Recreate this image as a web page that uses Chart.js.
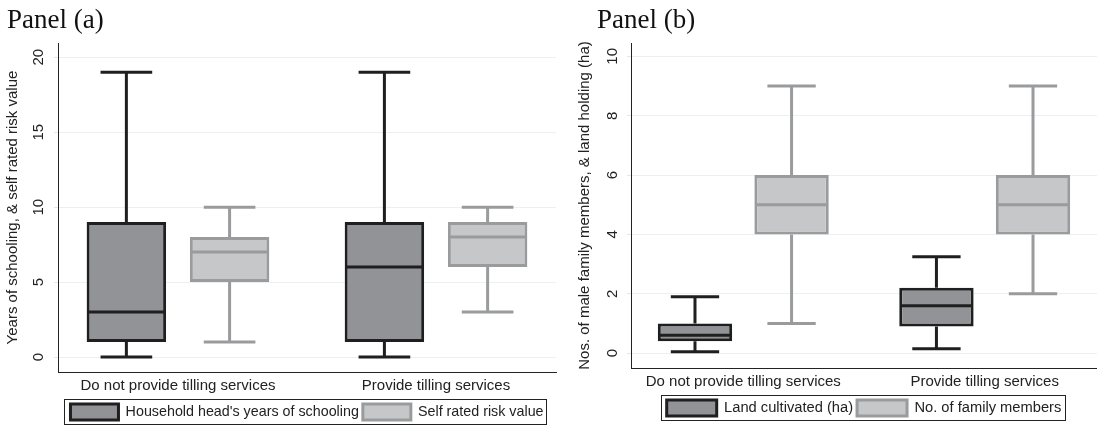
<!DOCTYPE html>
<html>
<head>
<meta charset="utf-8">
<script src="https://cdn.jsdelivr.net/npm/chart.js@4.4.0/dist/chart.umd.min.js"></script>
<style>
  html, body { margin: 0; padding: 0; background: #fff; }
  body { width: 1097px; height: 427px; position: relative; overflow: hidden; }
  .panel { position: absolute; top: 0; height: 427px; }
  #wrapA { left: 0; width: 560px; }
  #wrapB { left: 560px; width: 537px; }
  .ptitle { position: absolute; top: 4px; font: 27px "Liberation Serif", "Times New Roman", serif; color: #111; white-space: nowrap; }
</style>
</head>
<body>
<div class="panel" id="wrapA"><canvas id="chartA" width="560" height="427"></canvas></div>
<div class="panel" id="wrapB"><canvas id="chartB" width="537" height="427"></canvas></div>
<div class="ptitle" style="left:7px">Panel (a)</div>
<div class="ptitle" style="left:597px">Panel (b)</div>
<script>
const categories = ['Do not provide tilling services', 'Provide tilling services'];

// Panel (a): household head's schooling, self rated risk
const schoolMin = [0, 0];
const schoolQ1 = [1, 1];
const schoolMed = [3, 6];
const schoolQ3 = [9, 9];
const schoolMax = [19, 19];

const riskMin = [1, 3];
const riskQ1 = [5, 6];
const riskMed = [7, 8];
const riskQ3 = [8, 9];
const riskMax = [10, 10];

// Panel (b): land cultivated, family members
const landMin = [0.05, 0.15];
const landQ1 = [0.4, 0.9];
const landMed = [0.6, 1.6];
const landQ3 = [1.0, 2.2];
const landMax = [1.9, 3.25];

const famMin = [1, 2];
const famQ1 = [4, 4];
const famMed = [5, 5];
const famQ3 = [6, 6];
const famMax = [9, 9];

const ticksA = [0, 5, 10, 15, 20];
const ticksB = [0, 2, 4, 6, 8, 10];

const DARK_FILL = '#929396', DARK_LINE = '#1f1f1f';
const LIGHT_FILL = '#c6c7c9', LIGHT_LINE = '#9a9b9d';

Chart.defaults.font.family = '"Liberation Sans", Arial, sans-serif';
Chart.defaults.color = '#222';

// whiskers + median lines on top of the floating bars
const boxWhiskers = {
  id: 'boxWhiskers',
  beforeDatasetsDraw(chart) {
    const ctx = chart.ctx, y = chart.scales.y;
    chart.data.datasets.forEach((ds, di) => {
      chart.getDatasetMeta(di).data.forEach((bar, i) => {
        const cap = bar.width * 0.65;
        ctx.save();
        ctx.strokeStyle = ds.borderColor;
        ctx.lineWidth = 3;
        ctx.beginPath();
        ctx.moveTo(bar.x, y.getPixelForValue(ds.data[i][1]));
        ctx.lineTo(bar.x, y.getPixelForValue(ds.wMax[i]));
        ctx.moveTo(bar.x - cap / 2, y.getPixelForValue(ds.wMax[i]));
        ctx.lineTo(bar.x + cap / 2, y.getPixelForValue(ds.wMax[i]));
        ctx.moveTo(bar.x, y.getPixelForValue(ds.data[i][0]));
        ctx.lineTo(bar.x, y.getPixelForValue(ds.wMin[i]));
        ctx.moveTo(bar.x - cap / 2, y.getPixelForValue(ds.wMin[i]));
        ctx.lineTo(bar.x + cap / 2, y.getPixelForValue(ds.wMin[i]));
        ctx.stroke();
        ctx.restore();
      });
    });
  },
  afterDatasetsDraw(chart) {
    const ctx = chart.ctx, y = chart.scales.y;
    chart.data.datasets.forEach((ds, di) => {
      chart.getDatasetMeta(di).data.forEach((bar, i) => {
        const py = y.getPixelForValue(ds.wMed[i]);
        ctx.save();
        ctx.strokeStyle = ds.borderColor;
        ctx.lineWidth = 3;
        ctx.beginPath();
        ctx.moveTo(bar.x - bar.width / 2 + 1, py);
        ctx.lineTo(bar.x + bar.width / 2 - 1, py);
        ctx.stroke();
        ctx.restore();
      });
    });
  }
};

// frame around the legend, like the Stata legend box
const legendFrame = {
  id: 'legendFrame',
  afterDraw(chart) {
    const hb = chart.legend.legendHitBoxes;
    if (!hb || !hb.length) return;
    const l = Math.min(...hb.map(b => b.left)) - 6;
    const r = Math.max(...hb.map(b => b.left + b.width)) + 3;
    const t = Math.min(...hb.map(b => b.top)) - 5;
    const bt = Math.max(...hb.map(b => b.top + b.height)) + 4;
    const ctx = chart.ctx;
    ctx.save();
    ctx.strokeStyle = '#222';
    ctx.lineWidth = 1;
    ctx.strokeRect(Math.round(l) + 0.5, Math.round(t) + 0.5, Math.round(r - l), Math.round(bt - t));
    ctx.restore();
  }
};

function boxSet(label, q1, q3, mn, md, mx, fill, line) {
  return {
    label: label,
    data: categories.map((c, i) => [q1[i], q3[i]]),
    wMin: mn, wMed: md, wMax: mx,
    backgroundColor: fill,
    borderColor: line,
    borderWidth: 3,
    borderSkipped: false,
    categoryPercentage: 0.80,
    barPercentage: 0.77
  };
}

function makeChart(id, datasets, yMin, yMax, yTicks, yTitle, lay) {
  return new Chart(document.getElementById(id), {
    type: 'bar',
    data: { labels: categories, datasets: datasets },
    options: {
      responsive: false,
      animation: false,
      layout: { padding: { top: 43, left: lay.left, right: lay.right, bottom: lay.bottom } },
      scales: {
        x: {
          grid: { display: false, drawTicks: false },
          border: { display: true, color: '#222', width: 1 },
          ticks: { font: { size: 15 }, padding: 5, maxRotation: 0, color: '#222' },
          // Stata leaves a little more room at the outer ends than between the groups
          afterBuildTicks: s => { s._startValue = -0.465; s._valueRange = 1.93; }
        },
        y: {
          min: yMin, max: yMax,
          afterBuildTicks: s => { s.ticks = yTicks.map(v => ({ value: v })); },
          grid: { color: '#edf0f2', tickLength: 4, tickColor: '#e4e6e8' },
          border: { display: true, color: '#222', width: 1 },
          ticks: { font: { size: 15 }, minRotation: 90, maxRotation: 90, crossAlign: 'center', padding: lay.tp, color: '#222' },
          title: { display: true, text: yTitle, font: { size: 15 }, color: '#222', padding: { top: lay.ttop, bottom: lay.tbot } }
        }
      },
      plugins: {
        legend: {
          position: 'bottom',
          fullSize: false,
          labels: { boxWidth: lay.lbox, boxHeight: 16, padding: 4, font: { size: lay.lfont }, color: '#222' }
        },
        tooltip: { enabled: false }
      }
    },
    plugins: [boxWhiskers, legendFrame]
  });
}

makeChart('chartA', [
  boxSet("Household head's years of schooling", schoolQ1, schoolQ3, schoolMin, schoolMed, schoolMax, DARK_FILL, DARK_LINE),
  boxSet('Self rated risk value', riskQ1, riskQ3, riskMin, riskMed, riskMax, LIGHT_FILL, LIGHT_LINE)
], -1, 20.95, ticksA, 'Years of schooling, & self rated risk value',
  { left: 0, right: 4, bottom: -3, tp: 6.5, ttop: 3.5, tbot: 1.5, lbox: 48, lfont: 14.3 });

makeChart('chartB', [
  boxSet('Land cultivated (ha)', landQ1, landQ3, landMin, landMed, landMax, DARK_FILL, DARK_LINE),
  boxSet('No. of family members', famQ1, famQ3, famMin, famMed, famMax, LIGHT_FILL, LIGHT_LINE)
], -0.5, 10.45, ticksB, 'Nos. of male family members, & land holding (ha)',
  { left: 12, right: 0, bottom: 1, tp: 5.5, ttop: 4, tbot: 4, lbox: 50, lfont: 14.7 });
</script>
</body>
</html>
